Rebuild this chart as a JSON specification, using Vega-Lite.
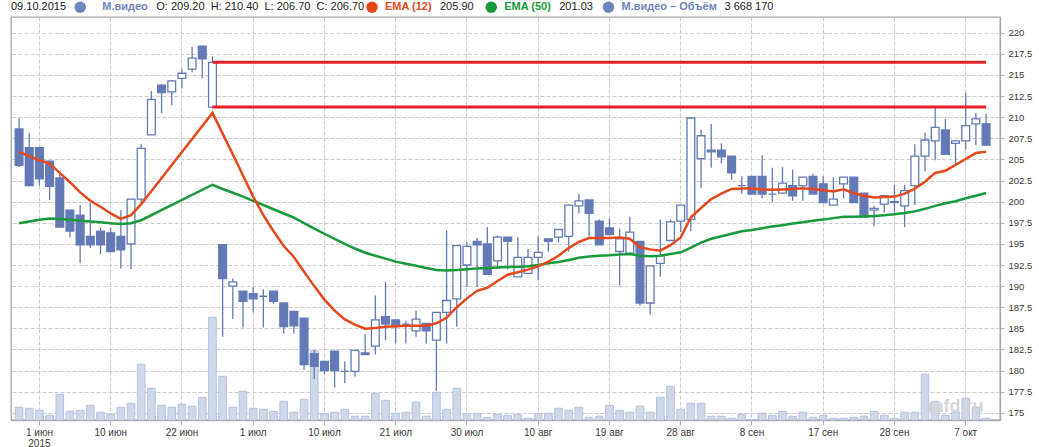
{
  "$schema": "https://vega.github.io/schema/vega-lite/v6.json",
  "width": 989,
  "height": 403,
  "autosize": {"type": "none"},
  "padding": {"left": 11, "top": 17, "right": 39, "bottom": 27},
  "background": "#ffffff",
  "config": {
    "font": "Liberation Sans",
    "view": {"stroke": "#a6a6a6", "strokeWidth": 1.3},
    "axis": {"gridDash": [4, 2], "gridColor": "#cbcbcb", "gridWidth": 1, "domainColor": "#a6a6a6", "domainWidth": 1.3, "tickColor": "#b4b4b4", "labelColor": "#3a3a3a", "labelFont": "Liberation Sans"},
    "legend": {"orient": "none", "padding": 0, "symbolType": "circle", "symbolSize": 132, "symbolStrokeWidth": 0, "symbolOpacity": 1, "labelFont": "Liberation Sans", "labelFontSize": 11, "labelFontWeight": "bold", "labelOffset": 7, "labelLimit": 400, "titleFont": "Liberation Sans", "titleFontSize": 11, "titleFontWeight": "normal", "titleColor": "#222222", "titleOrient": "right", "titlePadding": 8, "titleBaseline": "middle", "titleAnchor": "middle", "titleLimit": 500, "legendY": -15.75}
  },
  "datasets": {
    "px": [
      {"d": "2015-05-28", "o": 208.6, "h": 209.9, "l": 204.1, "c": 204.3, "v": 5530000, "e12": 205.9, "e50": 197.45},
      {"d": "2015-05-29", "o": 206.4, "h": 208.1, "l": 201.9, "c": 201.9, "v": 5360000, "e12": 205.4, "e50": 197.65},
      {"d": "2015-06-01", "o": 206.4, "h": 206.4, "l": 201.9, "c": 202.7, "v": 5020000, "e12": 204.9, "e50": 197.85},
      {"d": "2015-06-02", "o": 204.8, "h": 204.8, "l": 200.2, "c": 201.8, "v": 4170000, "e12": 204.5, "e50": 198.0},
      {"d": "2015-06-03", "o": 202.8, "h": 203.6, "l": 197.0, "c": 197.0, "v": 7740000, "e12": 203.4, "e50": 197.95},
      {"d": "2015-06-04", "o": 199.0, "h": 199.0, "l": 195.8, "c": 196.5, "v": 4850000, "e12": 202.3, "e50": 197.85},
      {"d": "2015-06-05", "o": 198.4, "h": 199.6, "l": 192.7, "c": 194.9, "v": 5020000, "e12": 201.1, "e50": 197.75},
      {"d": "2015-06-08", "o": 195.9, "h": 199.9, "l": 194.5, "c": 194.9, "v": 5870000, "e12": 200.1, "e50": 197.65},
      {"d": "2015-06-09", "o": 196.5, "h": 196.9, "l": 193.8, "c": 194.9, "v": 4680000, "e12": 199.4, "e50": 197.55},
      {"d": "2015-06-10", "o": 196.3, "h": 196.9, "l": 194.1, "c": 194.1, "v": 4390000, "e12": 198.6, "e50": 197.45},
      {"d": "2015-06-11", "o": 195.9, "h": 199.0, "l": 192.1, "c": 194.3, "v": 5530000, "e12": 197.95, "e50": 197.35},
      {"d": "2015-06-15", "o": 195.0, "h": 200.3, "l": 192.0, "c": 200.3, "v": 6210000, "e12": 198.4, "e50": 197.45},
      {"d": "2015-06-16", "o": 200.3, "h": 206.8, "l": 199.8, "c": 206.3, "v": 12840000, "e12": 199.7, "e50": 197.8},
      {"d": "2015-06-17", "o": 207.9, "h": 213.1, "l": 207.9, "c": 212.1, "v": 8760000, "e12": null, "e50": null},
      {"d": "2015-06-18", "o": 213.8, "h": 213.9, "l": 210.5, "c": 212.9, "v": 5870000, "e12": null, "e50": null},
      {"d": "2015-06-19", "o": 213.0, "h": 214.4, "l": 211.4, "c": 214.3, "v": 5530000, "e12": null, "e50": null},
      {"d": "2015-06-22", "o": 214.6, "h": 215.7, "l": 213.4, "c": 215.2, "v": 6040000, "e12": null, "e50": null},
      {"d": "2015-06-23", "o": 215.7, "h": 218.3, "l": 215.3, "c": 217.0, "v": 5700000, "e12": null, "e50": null},
      {"d": "2015-06-24", "o": 218.4, "h": 218.4, "l": 214.6, "c": 216.9, "v": 7230000, "e12": null, "e50": null},
      {"d": "2015-06-25", "o": 211.2, "h": 217.2, "l": 211.2, "c": 216.5, "v": 20830000, "e12": 210.5, "e50": 202.0},
      {"d": "2015-06-26", "o": 194.9, "h": 194.9, "l": 184.0, "c": 190.9, "v": 10800000, "e12": 208.05, "e50": 201.5},
      {"d": "2015-06-29", "o": 190.0, "h": 190.9, "l": 186.1, "c": 190.5, "v": 5530000, "e12": 205.6, "e50": 201.05},
      {"d": "2015-06-30", "o": 189.4, "h": 189.4, "l": 185.1, "c": 188.2, "v": 8250000, "e12": 203.1, "e50": 200.6},
      {"d": "2015-07-01", "o": 189.1, "h": 189.9, "l": 186.9, "c": 188.5, "v": 5360000, "e12": 200.6, "e50": 200.1},
      {"d": "2015-07-02", "o": 188.8, "h": 189.6, "l": 185.1, "c": 188.8, "v": 5190000, "e12": 198.4, "e50": 199.6},
      {"d": "2015-07-03", "o": 189.4, "h": 189.4, "l": 187.9, "c": 188.2, "v": 4850000, "e12": 196.5, "e50": 199.1},
      {"d": "2015-07-06", "o": 188.0, "h": 188.0, "l": 184.4, "c": 185.2, "v": 6550000, "e12": 194.75, "e50": 198.6},
      {"d": "2015-07-07", "o": 187.0, "h": 187.0, "l": 184.4, "c": 185.3, "v": 4680000, "e12": 193.45, "e50": 198.1},
      {"d": "2015-07-08", "o": 186.2, "h": 186.2, "l": 180.1, "c": 180.7, "v": 6890000, "e12": 191.7, "e50": 197.45},
      {"d": "2015-07-09", "o": 182.0, "h": 182.4, "l": 179.0, "c": 180.5, "v": 15150000, "e12": 190.0, "e50": 196.8},
      {"d": "2015-07-10", "o": 181.1, "h": 181.1, "l": 179.6, "c": 180.0, "v": 4440000, "e12": 188.4, "e50": 196.2},
      {"d": "2015-07-13", "o": 182.3, "h": 182.3, "l": 178.0, "c": 180.0, "v": 4680000, "e12": 187.1, "e50": 195.6},
      {"d": "2015-07-14", "o": 179.9, "h": 181.1, "l": 178.5, "c": 179.9, "v": 5190000, "e12": 186.05, "e50": 195.0},
      {"d": "2015-07-15", "o": 179.9, "h": 182.4, "l": 179.3, "c": 182.4, "v": 4000000, "e12": 185.45, "e50": 194.45},
      {"d": "2015-07-16", "o": 182.1, "h": 184.3, "l": 181.9, "c": 181.9, "v": 4000000, "e12": 184.95, "e50": 193.95},
      {"d": "2015-07-17", "o": 182.9, "h": 188.9, "l": 181.9, "c": 186.0, "v": 7910000, "e12": 185.05, "e50": 193.6},
      {"d": "2015-07-20", "o": 186.4, "h": 190.5, "l": 183.6, "c": 185.5, "v": 6720000, "e12": 185.2, "e50": 193.25},
      {"d": "2015-07-21", "o": 186.0, "h": 186.0, "l": 183.2, "c": 185.2, "v": 4510000, "e12": 185.25, "e50": 192.9},
      {"d": "2015-07-22", "o": 185.5, "h": 185.9, "l": 183.2, "c": 185.5, "v": 4680000, "e12": 185.3, "e50": 192.65},
      {"d": "2015-07-23", "o": 184.7, "h": 187.1, "l": 184.0, "c": 186.1, "v": 6380000, "e12": 185.3, "e50": 192.4},
      {"d": "2015-07-24", "o": 185.6, "h": 185.6, "l": 183.2, "c": 184.7, "v": 4000000, "e12": 185.3, "e50": 192.15},
      {"d": "2015-07-27", "o": 183.6, "h": 186.9, "l": 177.6, "c": 186.9, "v": 8080000, "e12": 185.6, "e50": 191.9},
      {"d": "2015-07-28", "o": 186.9, "h": 196.6, "l": 183.2, "c": 188.3, "v": 5190000, "e12": 186.25, "e50": 191.85},
      {"d": "2015-07-29", "o": 188.5, "h": 194.8, "l": 185.2, "c": 194.8, "v": 8760000, "e12": 187.5, "e50": 191.9},
      {"d": "2015-07-30", "o": 192.5, "h": 195.2, "l": 189.9, "c": 194.7, "v": 4390000, "e12": 188.55, "e50": 192.0},
      {"d": "2015-07-31", "o": 195.3, "h": 195.7, "l": 189.9, "c": 194.9, "v": 4510000, "e12": 189.45, "e50": 192.1},
      {"d": "2015-08-03", "o": 195.0, "h": 197.0, "l": 191.4, "c": 191.4, "v": 3830000, "e12": 189.8, "e50": 192.15},
      {"d": "2015-08-04", "o": 193.0, "h": 196.0, "l": 192.0, "c": 195.8, "v": 4340000, "e12": 190.6, "e50": 192.2},
      {"d": "2015-08-05", "o": 195.8, "h": 195.8, "l": 192.0, "c": 195.3, "v": 4170000, "e12": 191.35, "e50": 192.25},
      {"d": "2015-08-06", "o": 191.1, "h": 195.8, "l": 191.1, "c": 193.4, "v": 4340000, "e12": 191.65, "e50": 192.3},
      {"d": "2015-08-07", "o": 191.5, "h": 194.4, "l": 191.5, "c": 193.4, "v": 3660000, "e12": 191.95, "e50": 192.35},
      {"d": "2015-08-10", "o": 193.4, "h": 195.9, "l": 190.7, "c": 194.0, "v": 4510000, "e12": 192.35, "e50": 192.5},
      {"d": "2015-08-11", "o": 195.6, "h": 195.6, "l": 194.1, "c": 195.3, "v": 4510000, "e12": 192.9, "e50": 192.7},
      {"d": "2015-08-12", "o": 195.8, "h": 196.7, "l": 195.2, "c": 196.7, "v": 5360000, "e12": 193.6, "e50": 192.85},
      {"d": "2015-08-13", "o": 195.9, "h": 199.7, "l": 194.1, "c": 199.6, "v": 5020000, "e12": 194.5, "e50": 193.1},
      {"d": "2015-08-14", "o": 199.5, "h": 200.9, "l": 198.6, "c": 200.1, "v": 5530000, "e12": 195.25, "e50": 193.35},
      {"d": "2015-08-17", "o": 200.2, "h": 200.2, "l": 195.9, "c": 198.6, "v": 3830000, "e12": 195.7, "e50": 193.5},
      {"d": "2015-08-18", "o": 197.7, "h": 197.9, "l": 194.9, "c": 194.9, "v": 4000000, "e12": 195.7, "e50": 193.6},
      {"d": "2015-08-19", "o": 196.9, "h": 198.0, "l": 196.1, "c": 196.1, "v": 5870000, "e12": 195.7, "e50": 193.65},
      {"d": "2015-08-20", "o": 194.1, "h": 196.8, "l": 190.1, "c": 195.6, "v": 5020000, "e12": 195.75, "e50": 193.75},
      {"d": "2015-08-21", "o": 193.9, "h": 198.2, "l": 193.9, "c": 196.4, "v": 4680000, "e12": 195.6, "e50": 193.8},
      {"d": "2015-08-24", "o": 195.3, "h": 195.3, "l": 187.7, "c": 188.0, "v": 5700000, "e12": 194.6, "e50": 193.6},
      {"d": "2015-08-25", "o": 188.0, "h": 192.4, "l": 186.6, "c": 192.4, "v": 4680000, "e12": 194.35, "e50": 193.55},
      {"d": "2015-08-26", "o": 192.7, "h": 197.9, "l": 191.1, "c": 193.6, "v": 7230000, "e12": 194.2, "e50": 193.6},
      {"d": "2015-08-27", "o": 195.4, "h": 197.9, "l": 195.4, "c": 197.6, "v": 9100000, "e12": 194.85, "e50": 193.8},
      {"d": "2015-08-28", "o": 197.7, "h": 199.6, "l": 196.4, "c": 199.6, "v": 5190000, "e12": 195.75, "e50": 194.0},
      {"d": "2015-08-31", "o": 197.9, "h": 209.9, "l": 196.5, "c": 209.9, "v": 6210000, "e12": 198.15, "e50": 194.55},
      {"d": "2015-09-01", "o": 205.1, "h": 208.5, "l": 201.6, "c": 207.8, "v": 6210000, "e12": 199.25, "e50": 195.15},
      {"d": "2015-09-02", "o": 206.1, "h": 209.2, "l": 204.0, "c": 205.9, "v": 4000000, "e12": 200.3, "e50": 195.6},
      {"d": "2015-09-03", "o": 206.1, "h": 206.9, "l": 204.5, "c": 205.3, "v": 4000000, "e12": 200.95, "e50": 195.9},
      {"d": "2015-09-04", "o": 205.4, "h": 205.4, "l": 202.6, "c": 203.4, "v": 3660000, "e12": 201.5, "e50": 196.2},
      {"d": "2015-09-07", "o": 201.9, "h": 203.0, "l": 200.9, "c": 201.9, "v": 4340000, "e12": 201.55, "e50": 196.5},
      {"d": "2015-09-08", "o": 203.0, "h": 203.0, "l": 200.9, "c": 200.9, "v": 3490000, "e12": 201.55, "e50": 196.65},
      {"d": "2015-09-09", "o": 203.0, "h": 205.5, "l": 200.4, "c": 200.9, "v": 4510000, "e12": 201.45, "e50": 196.85},
      {"d": "2015-09-10", "o": 200.9, "h": 204.0, "l": 200.0, "c": 200.9, "v": 4170000, "e12": 201.4, "e50": 197.05},
      {"d": "2015-09-11", "o": 201.0, "h": 204.1, "l": 200.9, "c": 202.2, "v": 4850000, "e12": 201.45, "e50": 197.2},
      {"d": "2015-09-14", "o": 201.9, "h": 203.8, "l": 200.1, "c": 200.7, "v": 4000000, "e12": 201.5, "e50": 197.4},
      {"d": "2015-09-15", "o": 201.9, "h": 202.9, "l": 200.1, "c": 202.9, "v": 4680000, "e12": 201.6, "e50": 197.55},
      {"d": "2015-09-16", "o": 203.0, "h": 203.3, "l": 200.9, "c": 200.9, "v": 3830000, "e12": 201.5, "e50": 197.75},
      {"d": "2015-09-17", "o": 202.1, "h": 203.0, "l": 199.9, "c": 199.9, "v": 4170000, "e12": 201.35, "e50": 197.9},
      {"d": "2015-09-18", "o": 199.6, "h": 202.9, "l": 199.6, "c": 200.3, "v": 3660000, "e12": 201.2, "e50": 198.05},
      {"d": "2015-09-21", "o": 202.1, "h": 202.9, "l": 200.4, "c": 202.9, "v": 3660000, "e12": 201.45, "e50": 198.2},
      {"d": "2015-09-22", "o": 202.9, "h": 202.9, "l": 199.9, "c": 199.9, "v": 3830000, "e12": 201.0, "e50": 198.2},
      {"d": "2015-09-23", "o": 201.0, "h": 201.0, "l": 198.2, "c": 198.2, "v": 4000000, "e12": 200.7, "e50": 198.25},
      {"d": "2015-09-24", "o": 199.0, "h": 199.5, "l": 197.1, "c": 199.2, "v": 4850000, "e12": 200.5, "e50": 198.3},
      {"d": "2015-09-25", "o": 199.7, "h": 200.7, "l": 198.7, "c": 200.7, "v": 4170000, "e12": 200.55, "e50": 198.4},
      {"d": "2015-09-28", "o": 200.0, "h": 202.0, "l": 198.7, "c": 199.9, "v": 3660000, "e12": 200.6, "e50": 198.5},
      {"d": "2015-09-29", "o": 199.5, "h": 202.0, "l": 197.0, "c": 201.3, "v": 4680000, "e12": 200.95, "e50": 198.65},
      {"d": "2015-09-30", "o": 201.9, "h": 206.8, "l": 199.6, "c": 205.4, "v": 4680000, "e12": 201.55, "e50": 198.85},
      {"d": "2015-10-01", "o": 205.4, "h": 208.2, "l": 203.6, "c": 207.3, "v": 11140000, "e12": 202.35, "e50": 199.15},
      {"d": "2015-10-02", "o": 207.2, "h": 211.1, "l": 204.9, "c": 208.8, "v": 6550000, "e12": 203.4, "e50": 199.5},
      {"d": "2015-10-05", "o": 208.5, "h": 209.8, "l": 205.6, "c": 205.6, "v": 4170000, "e12": 203.65, "e50": 199.8},
      {"d": "2015-10-06", "o": 206.9, "h": 207.2, "l": 204.3, "c": 207.2, "v": 4680000, "e12": 204.35, "e50": 200.05},
      {"d": "2015-10-07", "o": 207.2, "h": 212.9, "l": 206.2, "c": 209.0, "v": 7060000, "e12": 205.05, "e50": 200.4},
      {"d": "2015-10-08", "o": 209.2, "h": 210.5, "l": 206.7, "c": 209.8, "v": 5530000, "e12": 205.75, "e50": 200.7},
      {"d": "2015-10-09", "o": 209.2, "h": 210.4, "l": 206.7, "c": 206.7, "v": 3668170, "e12": 205.9, "e50": 201.03}
    ],
    "lv": [
      {"a": "2015-06-25", "b": "2015-10-09", "p": 216.5},
      {"a": "2015-06-25", "b": "2015-10-09", "p": 211.2}
    ]
  },
  "data": {"name": "px"},
  "layer": [
    {
      "mark": {"type": "bar", "fill": "#cfd8e9", "stroke": "#b6c2dc", "strokeWidth": 1, "width": {"band": 0.88}},
      "encoding": {
        "x": {
          "field": "d", "type": "ordinal", "title": null,
          "scale": {"type": "band", "paddingInner": 0.15, "paddingOuter": 0.655, "align": 0.28},
          "axis": {
            "values": ["2015-06-01", "2015-06-10", "2015-06-22", "2015-07-01", "2015-07-10", "2015-07-21", "2015-07-30", "2015-08-10", "2015-08-19", "2015-08-28", "2015-09-08", "2015-09-17", "2015-09-28", "2015-10-07"],
            "labelExpr": "{'2015-06-01': ['1 июн', '2015'], '2015-06-10': '10 июн', '2015-06-22': '22 июн', '2015-07-01': '1 июл', '2015-07-10': '10 июл', '2015-07-21': '21 июл', '2015-07-30': '30 июл', '2015-08-10': '10 авг', '2015-08-19': '19 авг', '2015-08-28': '28 авг', '2015-09-08': '8 сен', '2015-09-17': '17 сен', '2015-09-28': '28 сен', '2015-10-07': '7 окт'}[datum.value]",
            "bandPosition": 0.5, "grid": true, "tickSize": 5, "labelFontSize": 10, "labelPadding": 2,
            "labelAngle": 0, "labelLineHeight": 11, "labelOverlap": false, "labelFlush": false
          }
        },
        "y": {"field": "v", "type": "quantitative", "title": null, "scale": {"domain": [3370000, 71880000], "zero": false, "nice": false}, "axis": null},
        "y2": {"datum": 3370000}
      }
    },
    {
      "layer": [
        {
          "mark": {"type": "rule", "color": "#647ab6", "strokeWidth": 1.3},
          "encoding": {
            "x": {"field": "d", "type": "ordinal", "title": null},
            "y": {
              "field": "l", "type": "quantitative", "title": null,
              "scale": {"domain": [174.15, 221.86], "zero": false, "nice": false},
              "axis": {"orient": "right", "values": [175, 177.5, 180, 182.5, 185, 187.5, 190, 192.5, 195, 197.5, 200, 202.5, 205, 207.5, 210, 212.5, 215, 217.5, 220], "labelExpr": "'' + datum.value", "grid": true, "tickSize": 4, "labelPadding": 4, "labelFontSize": 9.5, "labelFlush": false, "labelOverlap": false}
            },
            "y2": {"field": "h"}
          }
        },
        {
          "mark": {"type": "bar", "stroke": "#647ab6", "strokeWidth": 1.3, "width": {"band": 0.9}},
          "encoding": {
            "x": {"field": "d", "type": "ordinal", "title": null},
            "y": {
              "field": "o", "type": "quantitative", "title": null,
              "axis": {"orient": "right", "values": [175, 177.5, 180, 182.5, 185, 187.5, 190, 192.5, 195, 197.5, 200, 202.5, 205, 207.5, 210, 212.5, 215, 217.5, 220], "labelExpr": "'' + datum.value", "grid": true, "tickSize": 4, "labelPadding": 4, "labelFontSize": 9.5, "labelFlush": false, "labelOverlap": false}
            },
            "y2": {"field": "c"},
            "fill": {"condition": {"test": "datum.c < datum.o", "value": "#647ab6"}, "value": "#ffffff"}
          }
        },
        {
          "transform": [{"filter": "isValid(datum.e50)"}],
          "mark": {"type": "line", "color": "#179a3c", "strokeWidth": 2.5},
          "encoding": {
            "x": {"field": "d", "type": "ordinal", "title": null},
            "y": {
              "field": "e50", "type": "quantitative", "title": null,
              "axis": {"orient": "right", "values": [175, 177.5, 180, 182.5, 185, 187.5, 190, 192.5, 195, 197.5, 200, 202.5, 205, 207.5, 210, 212.5, 215, 217.5, 220], "labelExpr": "'' + datum.value", "grid": true, "tickSize": 4, "labelPadding": 4, "labelFontSize": 9.5, "labelFlush": false, "labelOverlap": false}
            }
          }
        },
        {
          "transform": [{"filter": "isValid(datum.e12)"}],
          "mark": {"type": "line", "color": "#e4481b", "strokeWidth": 2.5},
          "encoding": {
            "x": {"field": "d", "type": "ordinal", "title": null},
            "y": {
              "field": "e12", "type": "quantitative", "title": null,
              "axis": {"orient": "right", "values": [175, 177.5, 180, 182.5, 185, 187.5, 190, 192.5, 195, 197.5, 200, 202.5, 205, 207.5, 210, 212.5, 215, 217.5, 220], "labelExpr": "'' + datum.value", "grid": true, "tickSize": 4, "labelPadding": 4, "labelFontSize": 9.5, "labelFlush": false, "labelOverlap": false}
            }
          }
        },
        {
          "data": {"name": "lv"},
          "mark": {"type": "rule", "color": "#e8202a", "strokeWidth": 3},
          "encoding": {
            "x": {"field": "a", "type": "ordinal", "title": null},
            "x2": {"field": "b"},
            "y": {
              "field": "p", "type": "quantitative", "title": null,
              "axis": {"orient": "right", "values": [175, 177.5, 180, 182.5, 185, 187.5, 190, 192.5, 195, 197.5, 200, 202.5, 205, 207.5, 210, 212.5, 215, 217.5, 220], "labelExpr": "'' + datum.value", "grid": true, "tickSize": 4, "labelPadding": 4, "labelFontSize": 9.5, "labelFlush": false, "labelOverlap": false}
            }
          }
        },
        {
          "data": {"values": [{"t": "mfd.ru"}]},
          "mark": {"type": "text", "fontSize": 18, "fontWeight": "bold", "color": "#d6d6d6", "font": "Liberation Sans", "baseline": "middle"},
          "encoding": {
            "x": {"datum": "2015-10-06", "type": "ordinal"},
            "y": {
              "datum": 175.7, "type": "quantitative",
              "axis": {"orient": "right", "values": [175, 177.5, 180, 182.5, 185, 187.5, 190, 192.5, 195, 197.5, 200, 202.5, 205, 207.5, 210, 212.5, 215, 217.5, 220], "labelExpr": "'' + datum.value", "grid": true, "tickSize": 4, "labelPadding": 4, "labelFontSize": 9.5, "labelFlush": false, "labelOverlap": false}
            },
            "text": {"field": "t"}
          }
        }
      ]
    },
    {
      "data": {"values": []},
      "mark": {"type": "point", "filled": true},
      "encoding": {"color": {"datum": "09.10.2015", "type": "nominal", "scale": {"range": ["#ffffff"]}, "legend": {"title": null, "legendX": -11, "symbolSize": 0, "symbolOpacity": 0, "labelOffset": 0, "labelColor": "#222222", "labelFontWeight": "normal"}}}
    },
    {
      "data": {"values": []},
      "mark": {"type": "point", "filled": true},
      "encoding": {"color": {"datum": "М.видео", "type": "nominal", "scale": {"range": ["#6f83bd"]}, "legend": {"title": "O: 209.20 \u00a0H: 210.40 \u00a0L: 206.70 \u00a0C: 206.70", "legendX": 63.25, "labelOffset": 16, "labelColor": "#6f83bd"}}}
    },
    {
      "data": {"values": []},
      "mark": {"type": "point", "filled": true},
      "encoding": {"color": {"datum": "EMA (12)", "type": "nominal", "scale": {"range": ["#e4481b"]}, "legend": {"title": "205.90", "legendX": 355, "labelColor": "#e4481b"}}}
    },
    {
      "data": {"values": []},
      "mark": {"type": "point", "filled": true},
      "encoding": {"color": {"datum": "EMA (50)", "type": "nominal", "scale": {"range": ["#169b3c"]}, "legend": {"title": "201.03", "legendX": 474.25, "labelColor": "#169b3c"}}}
    },
    {
      "data": {"values": []},
      "mark": {"type": "point", "filled": true},
      "encoding": {"color": {"datum": "М.видео – Объём", "type": "nominal", "scale": {"range": ["#6f83bd"]}, "legend": {"title": "3 668 170", "legendX": 591.5, "labelColor": "#6f83bd"}}}
    }
  ],
  "resolve": {"scale": {"y": "independent", "color": "independent"}, "legend": {"color": "independent"}}
}
